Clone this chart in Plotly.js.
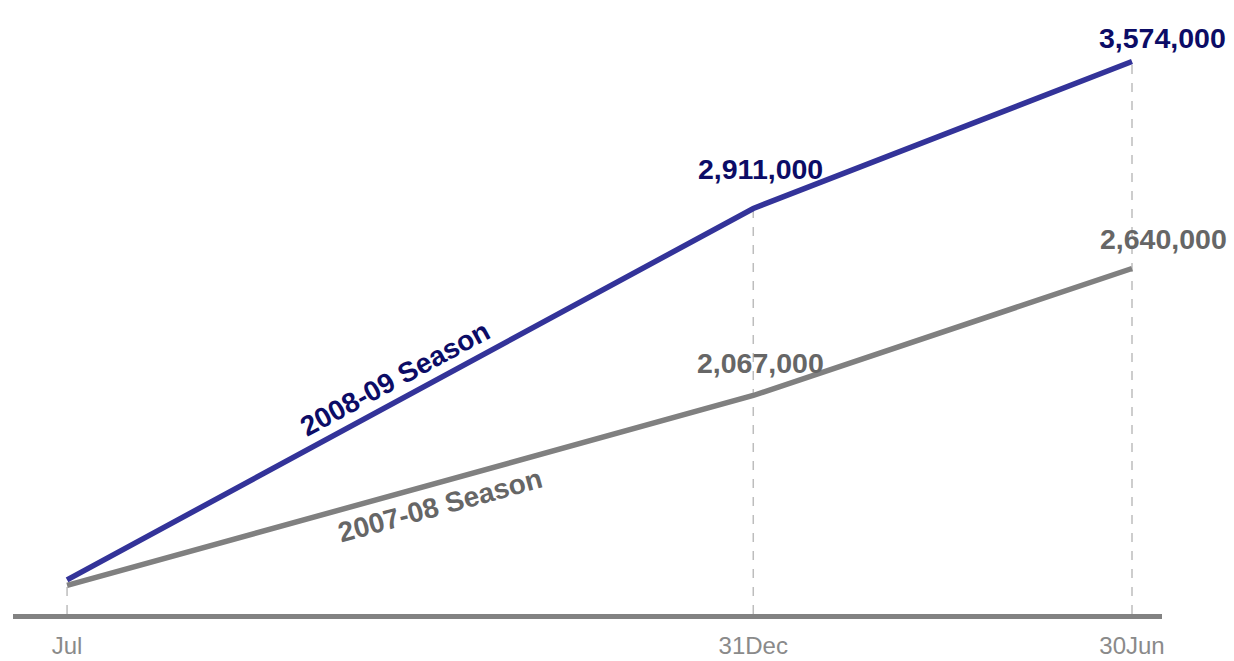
<!DOCTYPE html>
<html>
<head>
<meta charset="utf-8">
<script src="https://cdn.plot.ly/plotly-3.0.1.min.js"></script>
<style>
  html, body { margin: 0; padding: 0; background: #ffffff; }
  #chart { width: 1234px; height: 661px; }
</style>
</head>
<body>
<div id="chart"></div>
<script>
// Season checkpoints and cumulative totals
const dates = ['2008-07-01', '2008-12-31', '2009-06-30'];
const tickLabels = ['Jul', '31Dec', '30Jun'];
const season0809 = [1235000, 2911000, 3574000];
const season0708 = [1210000, 2067000, 2640000];
const seriesNames = ['2008-09 Season', '2007-08 Season'];

const FONT = 'Liberation Sans, Arial, Helvetica, sans-serif';
const BLUE_LINE = '#333399';
const BLUE_TEXT = '#0c0c66';
const GREY_LINE = '#808080';
const GREY_TEXT = '#666666';

const yMin = 1080900, yMax = 3806600;

const traces = [
  { x: dates, y: season0708, type: 'scatter', mode: 'lines', name: seriesNames[1],
    line: { color: GREY_LINE, width: 5.5 }, hoverinfo: 'skip' },
  { x: dates, y: season0809, type: 'scatter', mode: 'lines', name: seriesNames[0],
    line: { color: BLUE_LINE, width: 5.5 }, hoverinfo: 'skip' }
];

// dashed drop lines from each checkpoint down to the baseline
const shapes = dates.map((d, i) => ({
  type: 'line', xref: 'x', yref: 'y', layer: 'below',
  x0: d, x1: d, y0: yMin, y1: Math.max(season0809[i], season0708[i]),
  line: { color: '#bdbdbd', width: 1.5, dash: 'dash' }
}));

const fmt = v => v.toLocaleString('en-US');

// value labels for the mid-season and end-of-season totals
const valueLabel = (series, i, color, dx, dy) => ({
  x: dates[i], y: series[i], xref: 'x', yref: 'y',
  text: '<b>' + fmt(series[i]) + '</b>', showarrow: false,
  xanchor: 'center', yanchor: 'middle', xshift: dx, yshift: dy,
  font: { family: FONT, size: 28.5, color: color }
});

// point part-way along the first segment of a series
function along(series, f) {
  const t0 = new Date(dates[0]).getTime(), t1 = new Date(dates[1]).getTime();
  const t = new Date(t0 + f * (t1 - t0));
  return { x: t.toISOString().slice(0, 10), y: series[0] + f * (series[1] - series[0]) };
}

const p09 = along(season0809, 0.477);
const p08 = along(season0708, 0.543);

const annotations = [
  valueLabel(season0809, 1, BLUE_TEXT, 7, 39),
  valueLabel(season0809, 2, BLUE_TEXT, 30, 24),
  valueLabel(season0708, 1, GREY_TEXT, 7, 32),
  valueLabel(season0708, 2, GREY_TEXT, 31, 30),
  { x: p09.x, y: p09.y, xref: 'x', yref: 'y', text: '<b>' + seriesNames[0] + '</b>',
    showarrow: false, textangle: -28.4, xanchor: 'center', yanchor: 'middle',
    xshift: 2, yshift: 24, font: { family: FONT, size: 28, color: BLUE_TEXT } },
  { x: p08.x, y: p08.y, xref: 'x', yref: 'y', text: '<b>' + seriesNames[1] + '</b>',
    showarrow: false, textangle: -15.4, xanchor: 'center', yanchor: 'middle',
    xshift: 2, yshift: -23, font: { family: FONT, size: 28, color: GREY_TEXT } }
];

const layout = {
  width: 1234, height: 661,
  margin: { l: 13, r: 72, t: 10, b: 47 },
  paper_bgcolor: '#ffffff', plot_bgcolor: '#ffffff',
  showlegend: false,
  xaxis: {
    type: 'date',
    range: ['2008-06-16 14:00', '2009-07-08'],
    rangebreaks: [{ bounds: ['2009-01-20', '2009-04-10'] }],
    tickvals: dates, ticktext: tickLabels,
    showgrid: false, zeroline: false,
    showline: true, linecolor: '#828282', linewidth: 5,
    ticks: '', ticklabelstandoff: 6,
    tickfont: { family: FONT, size: 24, color: '#8a8a8a' }
  },
  yaxis: {
    range: [yMin, yMax],
    showgrid: false, zeroline: false, showline: false,
    showticklabels: false, ticks: ''
  },
  shapes: shapes,
  annotations: annotations
};

Plotly.newPlot('chart', traces, layout, { displayModeBar: false, staticPlot: true });
</script>
</body>
</html>
